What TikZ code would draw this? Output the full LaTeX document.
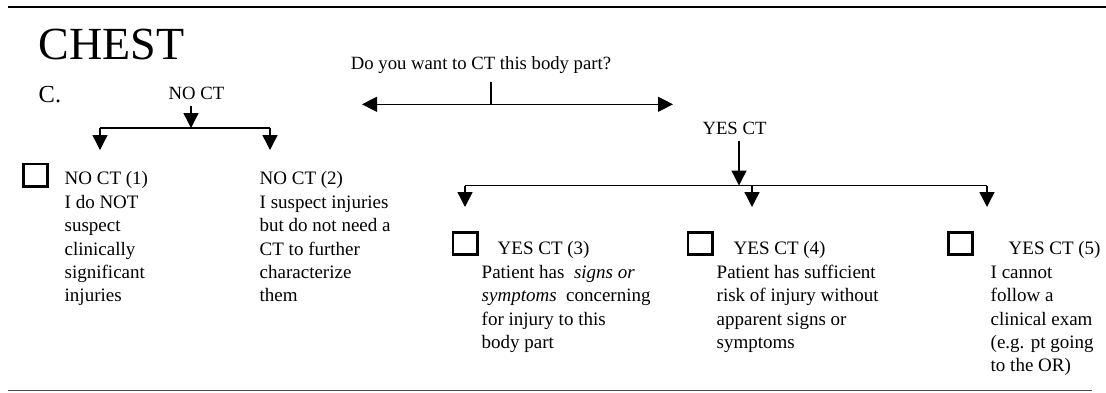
\documentclass[tikz,border=0pt]{standalone}
\usepackage{fontspec}
\setmainfont{Liberation Serif}
\usetikzlibrary{arrows.meta,positioning}
\tikzset{>={Triangle[length=15pt,width=15pt]}}
\tikzset{lbl/.style={font=\fontsize{18.7}{22}\selectfont,inner sep=6pt,anchor=base}}
\tikzset{item/.style={font=\fontsize{19}{23.4}\selectfont,inner sep=0pt,anchor=north west,align=left,execute at begin node=\strut}}
\tikzset{chkbox/.style={draw,line width=2.8pt,minimum width=24.2pt,minimum height=22.2pt,inner sep=0pt}}

\begin{document}
\begin{tikzpicture}[x=1pt,y=-1pt,line width=1.4pt]
\useasboundingbox (0,0) rectangle (1106,392);
% rules
\coordinate (topl) at (8,7);
\coordinate (topr) at (1106,7);
\coordinate (botl) at (8,390.5);
\coordinate (botr) at (1092,390.5);
\draw[line width=1.6pt] (topl) -- (topr);
\draw[line width=1.6pt,black!70] (botl) -- (botr);

\node[inner sep=0pt,anchor=base west,font=\fontsize{46}{50}\selectfont] (title) at (38,59) {CHEST};
\node[inner sep=0pt,anchor=base west,font=\fontsize{24.5}{28}\selectfont] (part) at (38,102.5) {C.};

% question
\node[lbl,inner sep=0pt] (question) at (481,69.5) {Do you want to CT this body part?};
\coordinate (asktop) at (491,82);
\coordinate (ask) at (491,104.3);
\coordinate (askl) at (362,104.3);
\coordinate (askr) at (673,104.3);
\draw (asktop) -- (ask);
\draw[<->] (askl) -- (askr);

% no branch
\node[lbl] (noct) at (196.5,99) {NO CT};
\coordinate (nosplit) at (191,128);
\coordinate (nol) at (100,128);
\coordinate (nor) at (270,128);
\coordinate (no1tip) at (100,150);
\coordinate (no2tip) at (270,150);
\draw[->] (nosplit |- noct.south) -- (nosplit);
\draw (nol) -- (nor);
\draw[->] (nol) -- (no1tip);
\draw[->] (nor) -- (no2tip);

% yes branch
\node[lbl] (yesct) at (734.5,134) {YES CT};
\coordinate (yessplit) at (739,185.5);
\coordinate (yesl) at (465,185.5);
\coordinate (yesm) at (752,185.5);
\coordinate (yesr) at (987,185.5);
\coordinate (yes3tip) at (465,207);
\coordinate (yes4tip) at (752,207);
\coordinate (yes5tip) at (987,207);
\draw[->] (yessplit |- yesct.south) -- (yessplit);
\draw (yesl) -- (yesr);
\draw[->] (yesl) -- (yes3tip);
\draw[->] (yesm) -- (yes4tip);
\draw[->] (yesr) -- (yes5tip);

% choices
\node[chkbox] (box1) at (35.5,175) {};
\node[item] (no1) at (64,171) {NO CT (1)\\I do NOT\\suspect\\clinically\\significant\\injuries};
\node[item] (no2) at (259,171) {NO CT (2)\\I suspect injuries\\but do not need a\\CT to further\\characterize\\them};

\node[chkbox] (box3) at (465,243.5) {};
\node[item] (yes3) at (481,241) {\hspace*{16pt}YES CT (3)\\Patient has \ \textit{signs or}\\\textit{symptoms} \ concerning\\for injury to this\\body part};
\node[chkbox] (box4) at (700,243.5) {};
\node[item] (yes4) at (716,241) {\hspace*{17pt}YES CT (4)\\Patient has sufficient\\risk of injury without\\apparent signs or\\symptoms};
\node[chkbox] (box5) at (960.5,243.5) {};
\node[item] (yes5) at (990,241) {\hspace*{18pt}YES CT (5)\\I cannot\\follow a\\clinical exam\\(e.g. pt going\\to the OR)};
\end{tikzpicture}
\end{document}
